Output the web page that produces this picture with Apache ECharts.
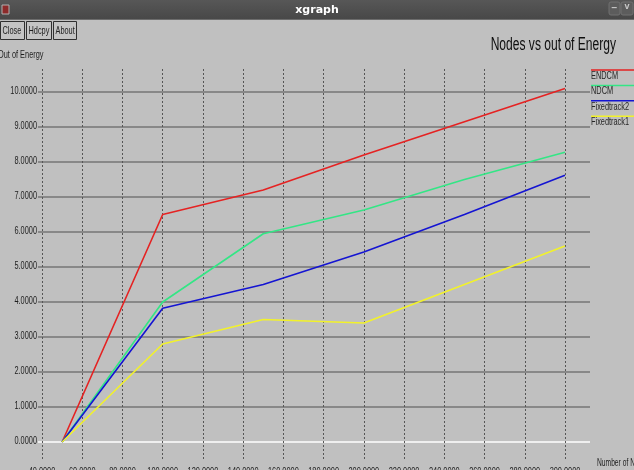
<!DOCTYPE html>
<html>
<head>
<meta charset="utf-8">
<script src="https://cdn.jsdelivr.net/npm/echarts@6/dist/echarts.min.js"></script>
<style>
  html, body { margin: 0; padding: 0; background: #c0c0c0; }
  #chart { width: 634px; height: 470px; }
</style>
</head>
<body>
<div id="chart"></div>
<script>
// Number of nodes on the x axis
const nodes = [50, 100, 150, 200, 250, 300];

// Out of energy per protocol
const endcm       = [0, 6.5, 7.2, 8.2, 9.15, 10.1];
const ndcm        = [0, 4.0, 5.95, 6.63, 7.5, 8.28];
const fixedtrack2 = [0, 3.82, 4.5, 5.43, 6.5, 7.62];
const fixedtrack1 = [0, 2.8, 3.5, 3.4, 4.5, 5.6];

const seriesNames  = ['ENDCM', 'NDCM', 'Fixedtrack2', 'Fixedtrack1'];
const seriesValues = [endcm, ndcm, fixedtrack2, fixedtrack1];
const seriesColors = ['#e52222', '#33e685', '#1414d2', '#f2f22a'];

// Tick values along both axes
const xTicks = [40, 60, 80, 100, 120, 140, 160, 180, 200, 220, 240, 260, 280, 300];
const yTicks = [0, 1, 2, 3, 4, 5, 6, 7, 8, 9, 10];

const chartTitle = 'Nodes vs out of Energy';
const yTitle = 'Out of Energy';
const xTitle = 'Number of Nodes';
const windowTitle = 'xgraph';
const buttons = ['Close', 'Hdcpy', 'About'];

// Helvetica-like face, squeezed horizontally to get the condensed xgraph look
const face = "'Liberation Sans', Arial, sans-serif";
const squeeze = 0.67;
const fmt = v => v.toFixed(4);

const chart = echarts.init(document.getElementById('chart'), null, { renderer: 'canvas' });

// Horizontal grid: the zero line is white, the others gray
const hColors = ['#ffffff'].concat(new Array(yTicks.length - 1).fill('#767676'));

const series = seriesNames.map((name, i) => ({
  name: name,
  type: 'line',
  xAxisIndex: 2,
  yAxisIndex: 2,
  data: nodes.map((x, j) => [x, seriesValues[i][j]]),
  showSymbol: false,
  symbol: 'none',
  clip: false,
  lineStyle: { color: seriesColors[i], width: 1.6 },
  itemStyle: { color: seriesColors[i] },
  z: 5
}));

function label(text, x, y, size, align, vAlign, color) {
  return {
    type: 'text', x: x, y: y, scaleX: squeeze,
    style: { text: text, fill: color || '#1e1e1e', font: size + 'px ' + face,
      align: align || 'left', verticalAlign: vAlign || 'middle' }
  };
}

// Window chrome, buttons, titles and the key at the right
const graphics = [
  { type: 'rect', shape: { x: 0, y: 0, width: 634, height: 20 },
    style: { fill: new echarts.graphic.LinearGradient(0, 0, 0, 1, [
      { offset: 0, color: '#575757' }, { offset: 1, color: '#474747' }]) } },
  { type: 'rect', shape: { x: 0, y: 19, width: 634, height: 1 }, style: { fill: '#6c6c6c' } },
  { type: 'rect', shape: { x: 2, y: 5, width: 7, height: 9 },
    style: { fill: '#8c2a2a', stroke: '#b0b0b0', lineWidth: 1 } },
  { type: 'text', x: 317, y: 10,
    style: { text: windowTitle, fill: '#ffffff', font: "bold 11px 'DejaVu Sans', sans-serif",
      align: 'center', verticalAlign: 'middle' } },
  { type: 'rect', shape: { x: 609, y: 2, width: 11, height: 13, r: 2 },
    style: { fill: '#5c5c5c', stroke: '#707070', lineWidth: 1 } },
  { type: 'rect', shape: { x: 621, y: 2, width: 12, height: 13, r: 2 },
    style: { fill: '#5c5c5c', stroke: '#707070', lineWidth: 1 } },
  { type: 'text', x: 614.5, y: 8, style: { text: '−', fill: '#c8c8c8', font: 'bold 10px sans-serif',
      align: 'center', verticalAlign: 'middle' } },
  { type: 'text', x: 627, y: 7, style: { text: 'v', fill: '#c8c8c8', font: 'bold 9px sans-serif',
      align: 'center', verticalAlign: 'middle' } },
  label(yTitle, -2, 55, 11),
  label(chartTitle, 616, 45, 18, 'right', 'middle', '#0e0e0e'),
  label(xTitle, 597, 463, 10)
];

const btnX = [0, 26, 53];
const btnW = [24, 25, 23];
buttons.forEach((b, i) => {
  graphics.push({ type: 'rect', shape: { x: btnX[i] + 0.5, y: 21.5, width: btnW[i], height: 18 },
    style: { fill: '#c4c4c4', stroke: '#303030', lineWidth: 1 } });
  graphics.push(label(b, btnX[i] + 2.5, 31, 11));
});

seriesNames.forEach((name, i) => {
  const ly = 70 + i * 15.4;
  graphics.push({ type: 'line', shape: { x1: 591, y1: ly, x2: 634, y2: ly },
    style: { stroke: seriesColors[i], lineWidth: 1.5 } });
  graphics.push(label(name, 591, ly + 6, 11, 'left', 'middle', '#262626'));
});

const hidden = { show: false };

chart.setOption({
  backgroundColor: '#c0c0c0',
  animation: false,
  grid: [
    // vertical dashed grid lines
    { left: 42, top: 69, width: 523, height: 391, containLabel: false },
    // horizontal grid lines
    { left: 38, top: 92, width: 552, height: 350, containLabel: false },
    // data lines
    { left: 42, top: 92, width: 523, height: 350, containLabel: false }
  ],
  xAxis: [
    { gridIndex: 0, type: 'value', min: xTicks[0], max: xTicks[xTicks.length - 1], interval: 20,
      axisLine: hidden, axisTick: hidden, axisLabel: hidden,
      splitLine: { show: true, lineStyle: { color: '#565656', type: [2, 2], width: 1 } } },
    { gridIndex: 1, type: 'value', min: 0, max: 1, show: false, splitLine: hidden },
    { gridIndex: 2, type: 'value', min: xTicks[0], max: xTicks[xTicks.length - 1], show: false, splitLine: hidden }
  ],
  yAxis: [
    { gridIndex: 0, type: 'value', min: 0, max: 1, show: false, splitLine: hidden },
    { gridIndex: 1, type: 'value', min: yTicks[0], max: yTicks[yTicks.length - 1], interval: 1,
      axisLine: hidden, axisTick: hidden, axisLabel: hidden,
      splitLine: { show: true, lineStyle: { color: hColors, width: 1.5 } } },
    { gridIndex: 2, type: 'value', min: yTicks[0], max: yTicks[yTicks.length - 1], show: false, splitLine: hidden }
  ],
  series: series,
  graphic: graphics
});

// Tick labels placed through the axes' own scales, in the squeezed face
const tickLabels = [];
xTicks.forEach(v => {
  const px = chart.convertToPixel({ xAxisIndex: 0 }, v);
  tickLabels.push(label(fmt(v), px, 466, 11, 'center', 'top'));
});
yTicks.forEach(v => {
  const py = chart.convertToPixel({ yAxisIndex: 1 }, v);
  tickLabels.push(label(fmt(v), 37, py - 1, 11, 'right', 'middle'));
});
chart.setOption({ graphic: graphics.concat(tickLabels) });
</script>
</body>
</html>
